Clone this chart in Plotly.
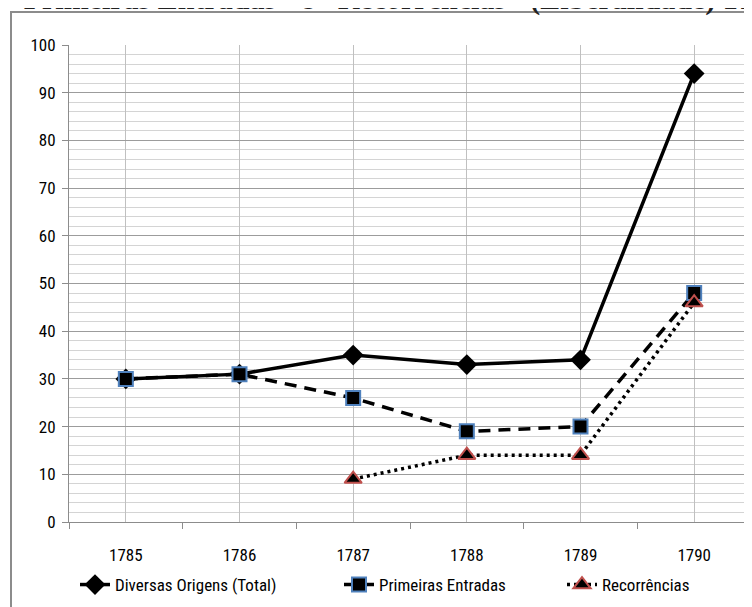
import plotly.graph_objects as go

years = ["1785", "1786", "1787", "1788", "1789", "1790"]
total = [30, 31, 35, 33, 34, 94]
primeiras = [30, 31, 26, 19, 20, 48]
recorrencias = [None, None, 9, 14, 14, 46]

names = ["Diversas Origens (Total)", "Primeiras Entradas", "Recorrências"]
title_text = '"Primeiras Entradas" e "Recorrências" (Liberalidade) 1785-1790'

# page is shown with an 8px body margin: figure pixel = page pixel - 8
OFF = 8
W, H = 752 - OFF, 607 - OFF
L, R, T = 69 - OFF, 1, 45 - OFF
B = H - (522 - OFF)
pw, ph = W - L - R, H - T - B

def px_x(page_px):
    return (page_px - OFF - L) / pw

def px_y(page_py):
    return 1 - (page_py - OFF - T) / ph

FONT = "Liberation Sans Narrow, Arial Narrow, Roboto Condensed, sans-serif"
FS = 17
xs = list(range(len(years)))

fig = go.Figure()
fig.add_trace(go.Scatter(
    x=xs, y=total, name=names[0], mode="lines+markers",
    line=dict(color="black", width=3.5),
    marker=dict(symbol="diamond", size=16, color="black"),
    legend="legend"))
fig.add_trace(go.Scatter(
    x=xs, y=primeiras, name=names[1], mode="lines+markers",
    line=dict(color="black", width=3.5, dash="12px,8px"),
    marker=dict(symbol="square", size=14, color="black",
                line=dict(color="#4f81bd", width=2)),
    legend="legend2"))
fig.add_trace(go.Scatter(
    x=xs, y=recorrencias, name=names[2], mode="lines+markers",
    line=dict(color="black", width=3.5, dash="3px,4px"),
    marker=dict(symbol="triangle-up", size=15, color="black",
                line=dict(color="#c0504d", width=2)),
    legend="legend3"))

# invisible trace on a secondary x axis that carries the boundary tick marks
fig.add_trace(go.Scatter(x=[-0.5], y=[0], xaxis="x2", mode="markers",
                         marker=dict(opacity=0), showlegend=False,
                         hoverinfo="skip"))

leg_common = dict(orientation="h", xanchor="left", yanchor="middle",
                  bgcolor="rgba(0,0,0,0)", font=dict(family=FONT, size=FS))

fig.update_layout(
    width=W, height=H,
    margin=dict(l=L, r=R, t=T, b=B, pad=0),
    paper_bgcolor="white", plot_bgcolor="white",
    font=dict(family=FONT, size=FS, color="black"),
    xaxis=dict(
        range=[-0.5, 5.5], tickmode="array", tickvals=xs, ticktext=years,
        showgrid=True, gridcolor="#c0c0c0", gridwidth=1,
        ticks="", showline=True, linecolor="#8c8c8c", linewidth=1,
        zeroline=False, ticklabelstandoff=18,
        tickfont=dict(family=FONT, size=FS),
    ),
    xaxis2=dict(
        range=[-0.5, 5.5], overlaying="x", side="bottom",
        tickmode="array", tickvals=[i - 0.5 for i in range(len(years) + 1)],
        ticks="outside", ticklen=6, tickcolor="#8c8c8c", showticklabels=False,
        showgrid=False, zeroline=False, showline=False,
    ),
    yaxis=dict(
        range=[0, 100], tickmode="linear", tick0=0, dtick=10,
        showgrid=True, gridcolor="#9c9c9c", gridwidth=1,
        minor=dict(dtick=2, showgrid=True, gridcolor="#d4d4d4", gridwidth=1, ticks=""),
        ticks="outside", ticklen=6, tickcolor="#8c8c8c",
        showline=True, linecolor="#8c8c8c", linewidth=1,
        zeroline=False, ticklabelstandoff=3, tickfont=dict(family=FONT, size=FS),
    ),
    legend=dict(x=px_x(75), y=px_y(585), **leg_common),
    legend2=dict(x=px_x(339), y=px_y(585), **leg_common),
    legend3=dict(x=px_x(562), y=px_y(585), **leg_common),
    showlegend=True,
)

# outer chart frame (continues beyond the visible page)
fig.add_shape(type="rect", xref="paper", yref="paper",
              x0=px_x(11), y0=px_y(640), x1=px_x(790), y1=px_y(12),
              line=dict(color="#8c8c8c", width=2), fillcolor="rgba(0,0,0,0)",
              layer="below")

# title, cut off at the very top of the page as in the reference
fig.add_annotation(text="<b>" + title_text + "</b>", xref="paper", yref="paper",
                   x=px_x(5), y=px_y(18), xanchor="left", yanchor="bottom",
                   showarrow=False,
                   font=dict(family="Liberation Serif, Times New Roman, serif",
                             size=30, color="#222222"))

fig.write_html("out.html")
